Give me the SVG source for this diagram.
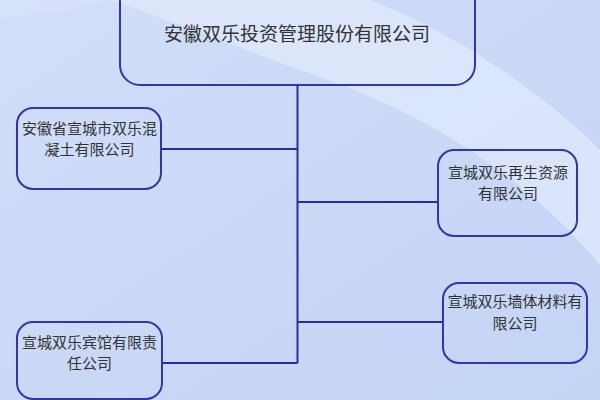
<svg xmlns="http://www.w3.org/2000/svg" width="600" height="400" viewBox="0 0 600 400">
<defs>
<style>
.box{fill:none;stroke:#3535a8;stroke-width:2}
.ln{stroke:#2c2ca0;stroke-width:2;fill:none}
.t{font-family:"Noto Sans CJK SC","Noto Sans CJK TC",sans-serif;fill:#333333;text-anchor:middle;dominant-baseline:central}
.t1{font-size:19px}
.t2{font-size:15px}
</style>
<linearGradient id="bg" x1="0" y1="0" x2="1" y2="1">
<stop offset="0" stop-color="#d2def9"/>
<stop offset="1" stop-color="#c4d4f5"/>
</linearGradient>
</defs>
<rect width="600" height="400" fill="url(#bg)"/>
<path d="M110,0 L370,0 C460,35 545,95 600,150 L600,265 C520,170 420,110 300,70 C230,45 170,20 110,0 Z" fill="#dde8fb" opacity="0.85"/>
<path d="M0,0 L110,0 C80,10 40,15 0,18 Z" fill="#d8e3fa" opacity="0.6"/>
<g id="connectors">
<line class="ln" x1="297.5" y1="85" x2="297.5" y2="363"/>
<line class="ln" x1="161" y1="149" x2="297.5" y2="149"/>
<line class="ln" x1="297.5" y1="202" x2="438" y2="202"/>
<line class="ln" x1="297.5" y1="322" x2="443" y2="322"/>
<line class="ln" x1="162" y1="363" x2="297.5" y2="363"/>
</g>
<g id="node-top">
<rect class="box" x="120" y="-20" width="355" height="105" rx="20"/>
<text class="t t1" x="297" y="32">安徽双乐投资管理股份有限公司</text>
</g>
<g id="node-concrete">
<rect class="box" x="17" y="108" width="144" height="81" rx="16"/>
<text class="t t2" x="89.5" y="127">安徽省宣城市双乐混</text>
<text class="t t2" x="89.5" y="148">凝土有限公司</text>
</g>
<g id="node-recycle">
<rect class="box" x="438" y="150" width="139" height="86" rx="16"/>
<text class="t t2" x="508" y="171">宣城双乐再生资源</text>
<text class="t t2" x="508" y="192">有限公司</text>
</g>
<g id="node-wall">
<rect class="box" x="443" y="283" width="144" height="80" rx="16"/>
<text class="t t2" x="515" y="300">宣城双乐墙体材料有</text>
<text class="t t2" x="515" y="322">限公司</text>
</g>
<g id="node-hotel">
<rect class="box" x="17" y="322" width="145" height="77" rx="16"/>
<text class="t t2" x="89.5" y="341">宣城双乐宾馆有限责</text>
<text class="t t2" x="89.5" y="362">任公司</text>
</g>
</svg>
